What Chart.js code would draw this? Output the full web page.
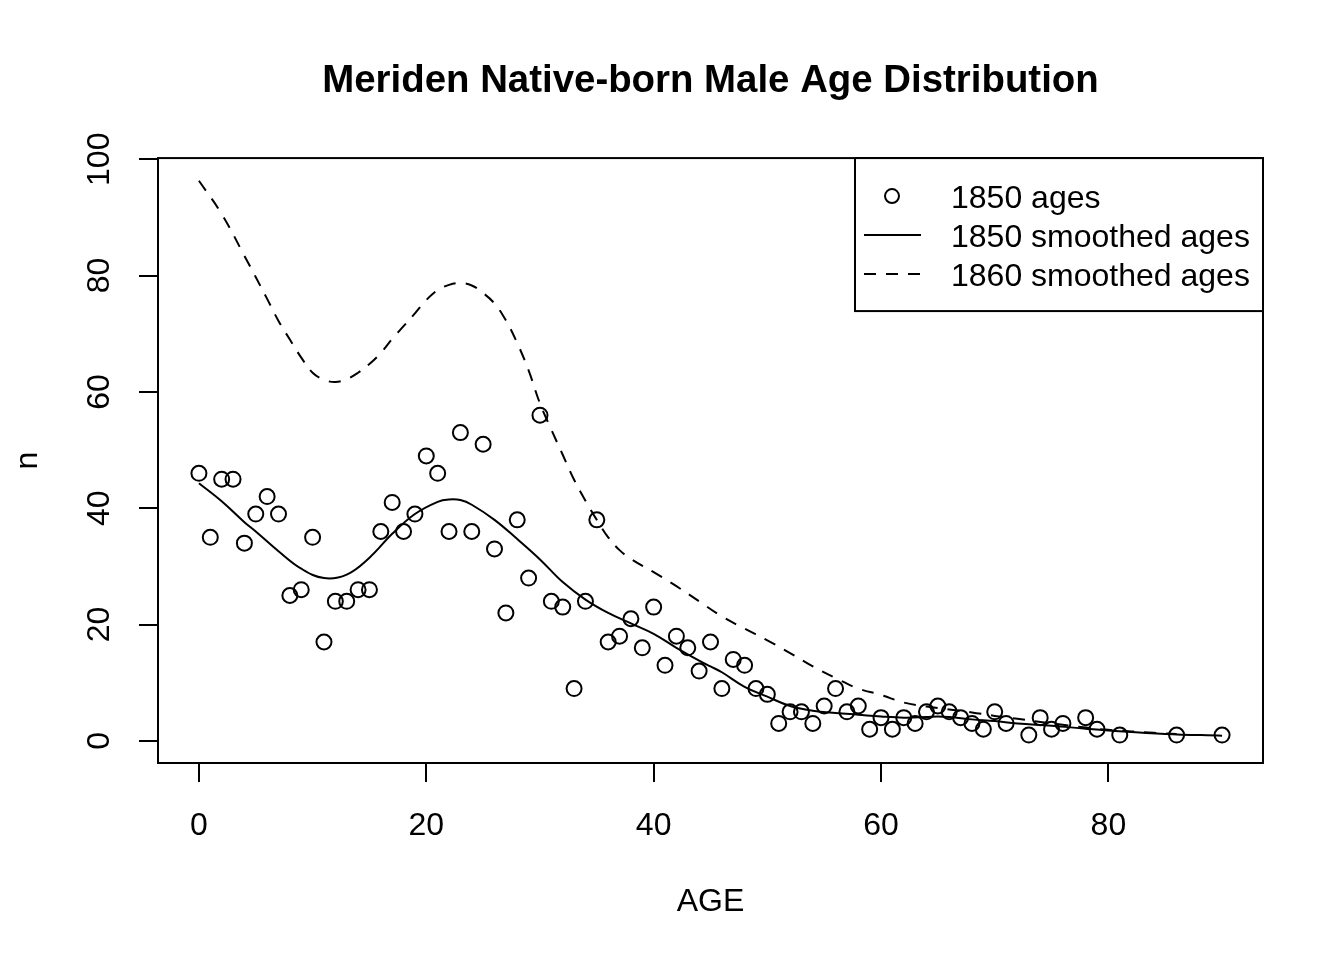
<!DOCTYPE html>
<html>
<head>
<meta charset="utf-8">
<script src="https://cdn.jsdelivr.net/npm/chart.js@4/dist/chart.umd.min.js"></script>
<style>
html,body{margin:0;padding:0;background:#fff;}
#wrap{width:1344px;height:960px;}
</style>
</head>
<body>
<div id="wrap"><canvas id="c" width="1344" height="960"></canvas></div>
<script>
// ---- data ----
const ages1850 = [0,1,2,3,4,5,6,7,8,9,10,11,12,13,14,15,16,17,18,19,20,21,22,23,24,25,26,27,28,29,30,31,32,33,34,35,36,37,38,39,40,41,42,43,44,45,46,47,48,49,50,51,52,53,54,55,56,57,58,59,60,61,62,63,64,65,66,67,68,69,70,71,73,74,75,76,78,79,81,86,90];
const counts1850 = [46,35,45,45,34,39,42,39,25,26,35,17,24,24,26,26,36,41,36,39,49,46,36,53,36,51,33,22,38,28,56,24,23,9,24,38,17,18,21,16,23,13,18,16,12,17,9,14,13,9,8,3,5,5,3,6,9,5,6,2,4,2,4,3,5,6,5,4,3,2,5,3,1,4,2,3,4,2,1,1,1];

const smoothAges1850 = [0,2,4,5,7,9,11,13,15,17,19,21,22,23,24,26,28,30,32,34,36,38,40,42,44,45,46,48,50,52,54,56,58,60,62,64,65,66,68,70,72,75,78,80,85,90];
const smooth1850 = [44.3,41.2,37.6,36.0,32.6,29.6,28.0,28.6,31.5,35.6,39.0,41.1,41.5,41.4,40.6,38.0,34.7,31.2,27.3,24.3,22.0,20.2,18.4,16.0,13.8,12.8,11.8,9.3,7.6,6.0,5.2,4.8,4.5,4.2,4.0,4.1,4.2,4.1,3.7,3.4,3.0,2.6,2.1,1.8,1.2,0.9];

const smoothAges1860 = [0,2,4,6,7,8,9,10,11,12,13,14,15,16,17,18,19,20,21,22,23,24,25,26,27,28,29,30,31,32,33,34,35,36,37,38,40,42,44,46,48,50,52,54,56,58,60,62,64,66,68,70,72,75,78,80,84,86];
const smooth1860 = [96.3,90.6,83.4,76.0,72.2,69.0,65.9,63.3,62.1,61.7,62.2,63.3,64.8,66.7,69.1,71.3,73.5,75.8,77.5,78.4,78.7,78.3,77.0,75.2,72.3,68.4,63.7,58.0,53.5,49.2,44.9,41.3,38.0,35.0,32.8,31.3,29.0,26.6,24.0,21.4,19.3,17.3,15.1,12.8,10.8,9.0,7.9,6.6,5.9,5.4,4.9,4.3,3.8,3.0,2.3,1.9,1.4,1.2];

const xTicks = [0,20,40,60,80];
const yTicks = [0,20,40,60,80,100];

const titleText = 'Meriden Native-born Male Age Distribution';
const legendLabels = ['1850 ages','1850 smoothed ages','1860 smoothed ages'];

// ---- helpers ----
const FONT = '"Liberation Sans", Arial, Helvetica, sans-serif';
const pts = (xs, ys) => xs.map((x,i)=>({x:x, y:ys[i]}));

const boxPlugin = {
  id:'rbox',
  afterDraw(chart){
    const ctx = chart.ctx, a = chart.chartArea;
    ctx.save();
    ctx.strokeStyle = '#000'; ctx.lineWidth = 2;
    ctx.strokeRect(a.left, a.top, a.right-a.left, a.bottom-a.top);
    // y tick labels rotated (R style)
    const ys = chart.scales.y;
    ctx.fillStyle = '#000';
    ctx.font = '32px ' + FONT;
    ctx.textAlign = 'center'; ctx.textBaseline = 'middle';
    ys.ticks.forEach(t=>{
      const py = ys.getPixelForValue(t.value);
      ctx.save(); ctx.translate(100, py); ctx.rotate(-Math.PI/2);
      ctx.fillText(String(t.value), 0, 0);
      ctx.restore();
    });
    // legend
    const L = a.right - 408, T = a.top, W = 408, H = 153;
    ctx.fillStyle = '#fff';
    ctx.fillRect(L, T, W, H);
    ctx.strokeRect(L, T, W, H);
    ctx.fillStyle = '#000';
    ctx.beginPath(); ctx.arc(L+37, T+38, 7, 0, Math.PI*2); ctx.stroke();
    ctx.beginPath(); ctx.moveTo(L+9, T+77); ctx.lineTo(L+66, T+77); ctx.stroke();
    ctx.setLineDash([12,10]);
    ctx.beginPath(); ctx.moveTo(L+9, T+116); ctx.lineTo(L+66, T+116); ctx.stroke();
    ctx.setLineDash([]);
    ctx.textAlign = 'left';
    legendLabels.forEach((s,i)=> ctx.fillText(s, L+96, T+41+i*39));
    ctx.restore();
  }
};

new Chart(document.getElementById('c'), {
  type:'scatter',
  data:{
    datasets:[
      {label:legendLabels[0], data:pts(ages1850, counts1850), showLine:false,
       pointStyle:'circle', pointRadius:7.5, pointBorderWidth:2,
       borderColor:'#000', backgroundColor:'rgba(0,0,0,0)', pointHoverRadius:7.5},
      {label:legendLabels[1], data:pts(smoothAges1850, smooth1850), showLine:true,
       pointRadius:0, borderColor:'#000', borderWidth:2, tension:0.4},
      {label:legendLabels[2], data:pts(smoothAges1860, smooth1860), showLine:true,
       pointRadius:0, borderColor:'#000', borderWidth:2, borderDash:[12,10], tension:0.4}
    ]
  },
  options:{
    responsive:false, animation:false, devicePixelRatio:1,
    layout:{padding:{left:0, right:81, top:0, bottom:0}},
    plugins:{
      legend:{display:false}, tooltip:{enabled:false},
      title:{display:true, text:titleText, fullSize:false, color:'#000',
        font:{family:FONT, size:38.4, weight:'bold'}, padding:{top:58, bottom:54}}
    },
    scales:{
      x:{type:'linear', min:-3.6, max:93.6,
        afterBuildTicks(s){ s.ticks = xTicks.map(v=>({value:v})); },
        afterFit(s){ s.height = 197; },
        grid:{drawOnChartArea:false, drawTicks:true, tickLength:19, color:'#000', lineWidth:2},
        border:{display:false},
        ticks:{color:'#000', font:{family:FONT, size:32}, padding:25, maxRotation:0, autoSkip:false},
        title:{display:true, text:'AGE', color:'#000', font:{family:FONT, size:32}, padding:{top:0, bottom:39}}
      },
      y:{type:'linear', min:-3.8, max:100.2,
        afterBuildTicks(s){ s.ticks = yTicks.map(v=>({value:v})); },
        afterFit(s){ s.width = 158; },
        grid:{drawOnChartArea:false, drawTicks:true, tickLength:19, color:'#000', lineWidth:2},
        border:{display:false},
        ticks:{display:false},
        title:{display:true, text:'n', color:'#000', font:{family:FONT, size:32}, padding:{top:9, bottom:0}}
      }
    }
  },
  plugins:[boxPlugin]
});
</script>
</body>
</html>
